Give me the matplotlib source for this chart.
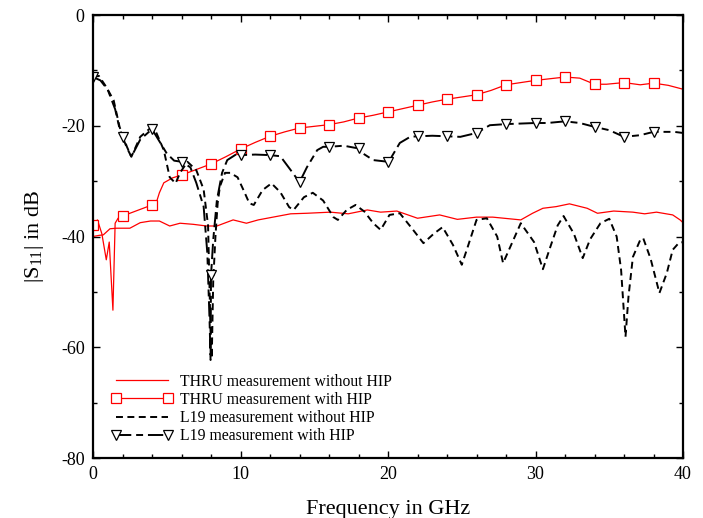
import matplotlib
matplotlib.use("Agg")
import matplotlib.pyplot as plt
import numpy as np
from matplotlib.ticker import MultipleLocator

# THRU measurement without HIP
thru_f = [0, 0.4, 0.7, 1.15, 1.6, 2.5, 3.2, 3.9, 4.5, 5.2, 5.9, 6.8, 7.7, 8.4, 9.5,
          10.4, 11.2, 12, 13.4, 14.5, 16.1, 17.3, 18.6, 19.5, 20.6, 22, 23.5, 24.7,
          26, 27.1, 29, 29.8, 30.5, 31.4, 32.3, 33.5, 34.2, 35.3, 36.6, 37.4, 38.2,
          39.3, 39.8, 40]
thru_db = [-40, -39.8, -39.7, -38.6, -38.5, -38.5, -37.5, -37.2, -37.2, -38.1, -37.6,
           -37.8, -38.1, -38.1, -37.0, -37.6, -37.0, -36.6, -35.9, -35.8, -35.6, -35.9,
           -35.2, -35.6, -35.4, -36.7, -36.1, -36.9, -36.5, -36.5, -37.0, -35.8, -34.9,
           -34.6, -34.1, -34.9, -35.8, -35.4, -35.6, -35.9, -35.6, -36.1, -37.0, -37.5]

# THRU measurement with HIP
thru_hip_f = [0, 0.3, 0.6, 0.9, 1.1, 1.35, 1.5, 1.7, 2, 2.7, 3.6, 4, 4.3, 4.5, 4.8, 5.4,
              6, 6.6, 7.3, 8, 9, 10, 11, 12, 13, 14, 15, 16, 17, 18, 19, 20, 21, 22, 23,
              24, 25, 26, 27, 27.4, 28, 29, 30, 31, 32, 33, 34, 34.8, 36, 37.1, 38, 39, 40]
thru_hip_db = [-38, -37, -39.5, -44.2, -41, -53.3, -37.6, -36.7, -36.3, -35.6, -34.7,
               -34.3, -33.8, -32.1, -30.3, -29.4, -28.9, -28.3, -27.6, -26.9, -25.6,
               -24.2, -23.0, -21.9, -21.1, -20.4, -20.1, -19.8, -19.3, -18.6, -18.1,
               -17.5, -16.9, -16.3, -15.7, -15.2, -14.8, -14.4, -13.6, -13.2, -12.6,
               -12.2, -11.8, -11.5, -11.2, -11.4, -12.5, -12.5, -12.2, -12.6, -12.3,
               -12.7, -13.4]

# L19 measurement without HIP
l19_f = [0, 0.4, 0.9, 1.4, 1.8, 2.3, 2.6, 3.2, 3.9, 4.3, 4.8, 5.2, 5.6, 5.9, 6.4, 7.0,
         7.5, 7.8, 7.95, 8.05, 8.15, 8.3, 8.45, 8.6, 8.95, 9.3, 9.8, 10.2, 10.6, 10.9,
         11.5, 12.1, 12.7, 13.3, 13.6, 14.3, 14.9, 15.6, 16.3, 16.6, 17.2, 17.8, 18.4,
         19.0, 19.5, 20.1, 20.8, 21.7, 22.4, 23.1, 23.7, 24.4, 25.0, 25.4, 26.0, 26.7,
         27.4, 27.8, 28.5, 29.0, 29.9, 30.5, 31.0, 31.5, 31.9, 32.6, 33.2, 33.7, 34.4,
         35.0, 35.5, 35.8, 36.1, 36.3, 36.6, 37.1, 37.3, 37.8, 38.4, 38.9, 39.3, 39.7, 40]
l19_db = [-11.2, -11.0, -13, -15.4, -20.2, -23.8, -25.6, -22, -20.4, -21.3, -24.4,
          -29.3, -30.4, -28.5, -26.5, -28, -31.5, -38, -55, -62, -48, -40, -34, -31,
          -28.5, -28.5, -29.3, -31.6, -34, -34.3, -31.6, -30.4, -32, -34.7, -35.2,
          -32.9, -32.1, -33.5, -36.5, -37, -35.2, -34.3, -35.5, -37.6, -38.8, -36.1,
          -35.8, -38.8, -41.2, -39.5, -38.3, -41.5, -45.1, -41.9, -37, -36.7, -40,
          -44.8, -40.6, -37.6, -41, -45.9, -41.9, -38, -36.3, -39.5, -43.9, -40.5,
          -37.6, -36.8, -40, -46, -58.1, -50.9, -43.7, -40.6, -40.3, -44, -50.2, -46.6,
          -42.4, -41.2, -41]

# L19 measurement with HIP
l19_hip_f = [0, 0.5, 1, 1.5, 1.8, 2, 2.3, 2.6, 3.2, 4, 4.5, 5, 5.5, 6, 6.6, 7, 7.5, 7.75,
             7.9, 7.97, 8, 8.15, 8.4, 8.75, 9.1, 9.8, 10, 11, 12, 12.7, 13.4, 14, 14.5,
             15.2, 15.6, 16, 17, 17.8, 18, 18.3, 19, 20, 20.2, 20.8, 21.5, 22, 23, 24,
             24.9, 26, 26.9, 28, 29, 30, 30.8, 32, 33, 34, 35, 36, 37.1, 38, 39.4, 40]
l19_hip_db = [-11.2, -11.8, -13.5, -17, -20.5, -22, -24, -25.6, -22.5, -20.6, -22.8,
              -25, -26.3, -26.5, -27.5, -30.3, -34.6, -43, -55, -62.3, -47, -40.6,
              -33.4, -28.5, -26.2, -25, -25.3, -25.2, -25.3, -25.5, -28, -30.2, -27.5,
              -24.4, -23.8, -23.8, -23.6, -24, -24, -25, -26.2, -26.5, -25.8, -23.1,
              -22, -21.9, -21.8, -21.9, -22, -21.3, -19.9, -19.7, -19.6, -19.5, -19.5,
              -19.2, -19.5, -20.2, -20.8, -22, -21.7, -21.1, -21.1, -21.3]

marker_f = np.arange(0, 40, 2)

labels = ["THRU measurement without HIP", "THRU measurement with HIP",
          "L19 measurement without HIP", "L19 measurement with HIP"]


def mark_idx(f):
    return list(np.where(np.isin(np.array(f, dtype=float), marker_f))[0])


plt.rcParams['font.family'] = ['Liberation Serif', 'DejaVu Serif']
plt.rcParams['mathtext.fontset'] = 'custom'
plt.rcParams['mathtext.rm'] = 'Liberation Serif'
plt.rcParams['lines.scale_dashes'] = False
plt.rcParams['axes.unicode_minus'] = False

fig = plt.figure(figsize=(7.03, 5.18), dpi=100)
ax = fig.add_axes([0.1323, 0.1158, 0.8393, 0.8552])

ax.plot(thru_f, thru_db, color='red', lw=0.9, label=labels[0])
ax.plot(thru_hip_f, thru_hip_db, color='red', lw=0.9, marker='s', ms=7.5,
        mfc='white', mec='red', mew=0.9, markevery=mark_idx(thru_hip_f),
        label=labels[1])
ax.plot(l19_f, l19_db, color='black', lw=1.4, dashes=(5, 3.2), label=labels[2])
ax.plot(l19_hip_f, l19_hip_db, color='black', lw=1.4, dashes=(11, 3.5, 5, 3.5),
        marker='v', ms=7.5, mfc='white', mec='black', mew=0.9,
        markevery=mark_idx(l19_hip_f), label=labels[3])

ax.set_xlim(0, 40)
ax.set_ylim(-80, 0)
ax.xaxis.set_major_locator(MultipleLocator(10))
ax.xaxis.set_minor_locator(MultipleLocator(2))
ax.yaxis.set_major_locator(MultipleLocator(20))
ax.yaxis.set_minor_locator(MultipleLocator(10))
ax.tick_params(which='both', direction='in', top=True, right=True, labelsize=13,
               width=1.0)
ax.tick_params(which='major', length=5, pad=6)
ax.tick_params(which='minor', length=3)
for s in ax.spines.values():
    s.set_linewidth(1.6)

ax.set_xlabel("Frequency in GHz", fontsize=16, labelpad=12)
ax.set_ylabel(r"|S$_{11}$| in dB", fontsize=16, labelpad=11)

ax.legend(loc='lower left', bbox_to_anchor=(0.02, 0.017), frameon=False,
          fontsize=11.3, handlelength=3.9, handletextpad=0.5, labelspacing=0.14,
          numpoints=2, borderaxespad=0)

fig.savefig("out.png", dpi=100)
